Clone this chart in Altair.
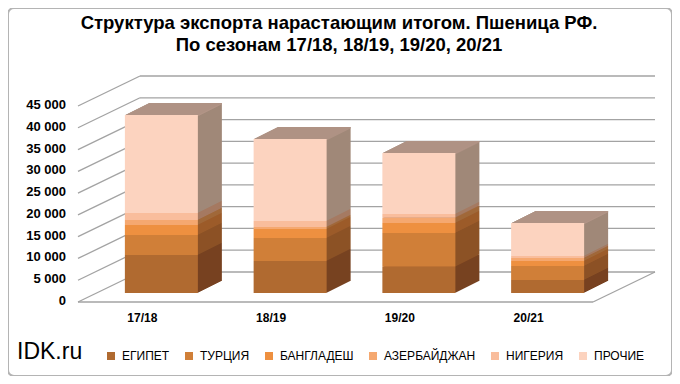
import altair as alt
import pandas as pd

# ---------------- data ----------------
seasons = ["17/18", "18/19", "19/20", "20/21"]
countries = ["ЕГИПЕТ", "ТУРЦИЯ", "БАНГЛАДЕШ", "АЗЕРБАЙДЖАН", "НИГЕРИЯ", "ПРОЧИЕ"]
egypt = [8700, 7350, 6000, 3000]
turkey = [4600, 5300, 7800, 3200]
bangladesh = [2300, 2050, 2300, 1150]
azerbaijan = [1150, 450, 1150, 700]
nigeria = [1600, 1400, 900, 450]
others = [22500, 18800, 14000, 7600]
y_ticks = [0, 5000, 10000, 15000, 20000, 25000, 30000, 35000, 40000, 45000]
y_tick_labels = ["0", "5 000", "10 000", "15 000", "20 000", "25 000", "30 000",
                 "35 000", "40 000", "45 000"]

title_line1 = "Структура экспорта нарастающим итогом. Пшеница РФ."
title_line2 = "По сезонам 17/18, 18/19, 19/20, 20/21"
brand = "IDK.ru"

# ---------------- styles ----------------
front_colors = ["#b06a30", "#d07f38", "#ee9040", "#f5a870", "#f9bd9c", "#fcd3bf"]
side_colors = ["#774220", "#8c5226", "#9c5c2a", "#a0683a", "#a57a62", "#a08878"]
top_color = "#b49688"
GRID = "#a3a3a3"
FONT = "Liberation Sans"

W, H = 664, 368
DEPTH_X, DEPTH_Y = 62, -30      # floor / wall depth
BAR_DX, BAR_DY = 19, -9         # bar front face inside the floor
EXT_X, EXT_Y = 24, -12          # bar depth
N_LAYERS = 24

series = [egypt, turkey, bangladesh, azerbaijan, nigeria, others]
rows = []
for ci, (c, vals) in enumerate(zip(countries, series)):
    for s, v in zip(seasons, vals):
        rows.append({"season": s, "country": c, "idx": ci, "value": v,
                     "side": side_colors[ci]})
df = pd.DataFrame(rows)
totals = df.groupby("season", as_index=False)["value"].sum().rename(columns={"value": "total"})
grid_df = pd.DataFrame({"v": y_ticks, "label": y_tick_labels})
zero_df = pd.DataFrame({"v": [0]})
season_df = pd.DataFrame({"season": seasons})

xscale = alt.Scale(domain=seasons, range=[70, 585], paddingInner=0.433, paddingOuter=0.2165)
yscale = alt.Scale(domain=[0, 45000], range=[294, 98], nice=False)

layers = []

# side-wall grid lines
layers.append(
    alt.Chart(grid_df).mark_rule(color=GRID, strokeWidth=1.3, y2Offset=DEPTH_Y).encode(
        x=alt.value(70), x2=alt.value(70 + DEPTH_X),
        y=alt.Y("v:Q", scale=yscale, axis=None),
        y2="v:Q",
    )
)
# back-wall grid lines
layers.append(
    alt.Chart(grid_df).mark_rule(color=GRID, strokeWidth=1.3, yOffset=DEPTH_Y).encode(
        x=alt.value(70 + DEPTH_X), x2=alt.value(585 + DEPTH_X),
        y=alt.Y("v:Q", scale=yscale, axis=None),
    )
)
# floor front edge and right edge
layers.append(
    alt.Chart(zero_df).mark_rule(color=GRID, strokeWidth=1.3).encode(
        x=alt.value(70), x2=alt.value(585),
        y=alt.Y("v:Q", scale=yscale, axis=None),
    )
)
layers.append(
    alt.Chart(zero_df).mark_rule(color=GRID, strokeWidth=1.3, y2Offset=DEPTH_Y).encode(
        x=alt.value(585), x2=alt.value(585 + DEPTH_X),
        y=alt.Y("v:Q", scale=yscale, axis=None), y2="v:Q",
    )
)
# y tick labels
layers.append(
    alt.Chart(grid_df).mark_text(font=FONT, fontSize=13, fontWeight="bold", color="#000",
                                 align="right", baseline="middle", dy=-1).encode(
        x=alt.value(58),
        y=alt.Y("v:Q", scale=yscale, axis=None),
        text="label:N",
    )
)
# category labels
layers.append(
    alt.Chart(season_df).mark_text(font=FONT, fontSize=12, fontWeight="bold", color="#000",
                                   align="center", baseline="middle").encode(
        x=alt.X("season:N", scale=xscale, axis=None),
        y=alt.value(310),
        text="season:N",
    )
)

# extruded bar body (back to front)
for k in range(N_LAYERS, 0, -1):
    dx = BAR_DX + EXT_X * k / N_LAYERS
    dy = BAR_DY + EXT_Y * k / N_LAYERS
    layers.append(
        alt.Chart(df).mark_bar(xOffset=dx, x2Offset=dx, yOffset=dy, y2Offset=dy, strokeWidth=0).encode(
            x=alt.X("season:N", scale=xscale, axis=None),
            y=alt.Y("value:Q", scale=yscale, stack="zero", axis=None),
            fill=alt.Fill("side:N", scale=None),
            order=alt.Order("idx:Q", sort="ascending"),
        )
    )
    layers.append(
        alt.Chart(totals).mark_bar(xOffset=dx, x2Offset=dx, yOffset=dy, y2Offset=dy + 1.5,
                                   strokeWidth=0, color=top_color).encode(
            x=alt.X("season:N", scale=xscale, axis=None),
            y=alt.Y("total:Q", scale=yscale, axis=None),
            y2="total:Q",
        )
    )

# front faces (carry the legend)
layers.append(
    alt.Chart(df).mark_bar(xOffset=BAR_DX, x2Offset=BAR_DX, yOffset=BAR_DY, y2Offset=BAR_DY, strokeWidth=0).encode(
        x=alt.X("season:N", scale=xscale, axis=None),
        y=alt.Y("value:Q", scale=yscale, stack="zero", axis=None),
        color=alt.Color("country:N", scale=alt.Scale(domain=countries, range=front_colors),
                        legend=alt.Legend(title=None, orient="none", legendX=97, legendY=342,
                                          direction="horizontal", symbolType="square",
                                          symbolSize=64, symbolStrokeWidth=0,
                                          labelFont=FONT, labelFontSize=12,
                                          labelColor="#000", columnPadding=13,
                                          labelOffset=5, padding=0)),
        order=alt.Order("idx:Q", sort="ascending"),
    )
)

# title and brand
layers.append(
    alt.Chart(pd.DataFrame({"t": [title_line1]})).mark_text(
        font=FONT, fontSize=18.5, fontWeight="bold", color="#000", align="center", baseline="middle"
    ).encode(text="t:N", x=alt.value(331), y=alt.value(15))
)
layers.append(
    alt.Chart(pd.DataFrame({"t": [title_line2]})).mark_text(
        font=FONT, fontSize=18.5, fontWeight="bold", color="#000", align="center", baseline="middle"
    ).encode(text="t:N", x=alt.value(331), y=alt.value(37))
)
layers.append(
    alt.Chart(pd.DataFrame({"t": [brand]})).mark_text(
        font=FONT, fontSize=23, color="#000", align="left", baseline="middle"
    ).encode(text="t:N", x=alt.value(9), y=alt.value(344))
)

chart = alt.layer(*layers).properties(
    width=W, height=H, padding=0,
    autosize=alt.AutoSizeParams(type="none"),
    background="white",
).configure_view(stroke="#b4b4b4", strokeWidth=2, cornerRadius=6)

chart.save("out.html", embed_options={"renderer": "svg", "actions": False})
